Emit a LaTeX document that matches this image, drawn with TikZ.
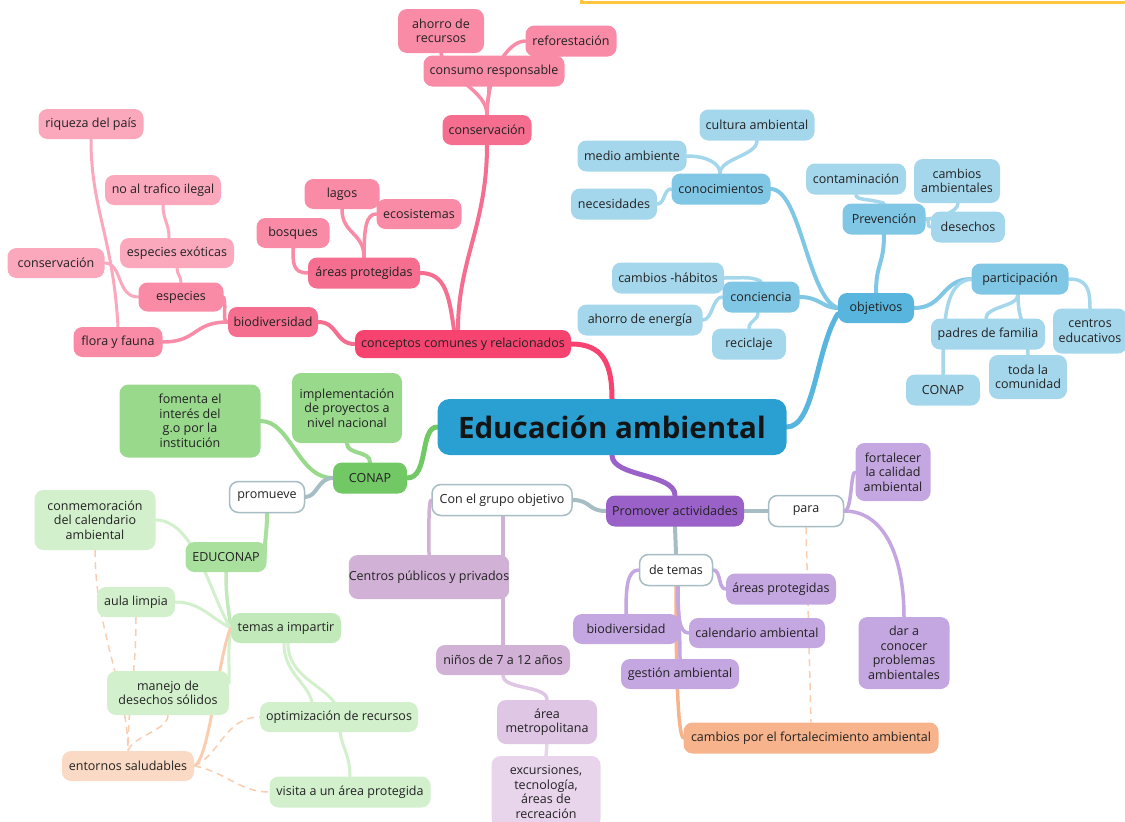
\documentclass[tikz,border=0pt]{standalone}
\usepackage{fontspec}
\setmainfont{Open Sans}
\usetikzlibrary{calc}
\pgfdeclarelayer{bg}
\pgfsetlayers{bg,main}
\definecolor{pkA}{HTML}{F6436F}
\definecolor{pkB}{HTML}{F56E8F}
\definecolor{pkC}{HTML}{F98BA6}
\definecolor{pkD}{HTML}{FBA8BD}
\definecolor{blT}{HTML}{2A9FD1}
\definecolor{blA}{HTML}{58B5DD}
\definecolor{blB}{HTML}{80C7E5}
\definecolor{blC}{HTML}{A5D7EC}
\definecolor{grA}{HTML}{72C865}
\definecolor{grB}{HTML}{98D98C}
\definecolor{grC}{HTML}{A9E09E}
\definecolor{grD}{HTML}{C2E9B9}
\definecolor{grE}{HTML}{D3F0CD}
\definecolor{puA}{HTML}{9A62C9}
\definecolor{puB}{HTML}{C4A6E1}
\definecolor{puC}{HTML}{D1B1D6}
\definecolor{puD}{HTML}{DFC6E4}
\definecolor{puE}{HTML}{E8D5EC}
\definecolor{orA}{HTML}{F7B38B}
\definecolor{orB}{HTML}{FADAC4}
\definecolor{dshc}{HTML}{F9CDB0}
\definecolor{gry}{HTML}{A7BDC4}
\definecolor{txt}{HTML}{222222}
\definecolor{yel}{HTML}{FFC53D}
\begin{document}
\begin{tikzpicture}[x=1pt,y=-1pt,
  base/.style={rounded corners=9pt, inner xsep=5pt, inner ysep=2pt, align=center,
    text=txt, font=\fontsize{12.5}{14.5}\selectfont},
  wh/.style 2 args={minimum width=#1, minimum height=#2},
  pkA/.style={base, fill=pkA}, pkB/.style={base, fill=pkB},
  pkC/.style={base, fill=pkC}, pkD/.style={base, fill=pkD},
  blA/.style={base, fill=blA}, blB/.style={base, fill=blB}, blC/.style={base, fill=blC},
  grA/.style={base, fill=grA}, grB/.style={base, fill=grB}, grC/.style={base, fill=grC},
  grD/.style={base, fill=grD}, grE/.style={base, fill=grE},
  puA/.style={base, fill=puA}, puB/.style={base, fill=puB}, puC/.style={base, fill=puC},
  puD/.style={base, fill=puD}, puE/.style={base, fill=puE},
  orA/.style={base, fill=orA}, orB/.style={base, fill=orB},
  wnode/.style={base, fill=white, draw=gry, line width=1.5pt},
  titlebox/.style={rounded corners=12pt, fill=blT, text=black!92,
    font=\fontsize{29.5}{34}\selectfont\bfseries},
  l0/.style={line width=5pt, line cap=round},
  l1/.style={line width=4pt, line cap=round},
  l2/.style={line width=3.5pt, line cap=round},
  l3/.style={line width=3pt, line cap=round},
  dsh/.style={line width=1.5pt, dash pattern=on 7pt off 5pt, draw=dshc}
]
\useasboundingbox (0,0) rectangle (1125,822);
\draw[line width=3pt, draw=yel] (581,-3) -- (581,2) -- (1130,2);

% ---- title
\node[titlebox, wh={349}{56}] (educ) at (612,427) {Educación ambiental};

% ---- pink branch
\node[pkA,wh={216}{28}] (concep) at (463,344) {conceptos comunes y relacionados};
\node[pkB,wh={89}{30}] (conserv) at (487,130) {conservación};
\node[pkB,wh={112}{31}] (areas) at (364,273) {áreas protegidas};
\node[pkB,wh={90}{30}] (biod) at (273,322) {biodiversidad};
\node[pkC,wh={141}{31}] (consumo) at (494,71) {consumo responsable};
\node[pkC,wh={86}{44}] (ahorro) at (441,31) {ahorro de\\recursos};
\node[pkC,wh={91}{31}] (refor) at (571,41) {reforestación};
\node[pkC,wh={75}{30}] (lagos) at (342,194) {lagos};
\node[pkC,wh={85}{30}] (ecosis) at (419,214) {ecosistemas};
\node[pkC,wh={73}{30}] (bosques) at (293,233) {bosques};
\node[pkD,wh={105}{30}] (riqueza) at (91,124) {riqueza del país};
\node[pkD,wh={116}{30}] (notraf) at (163,190) {no al trafico ilegal};
\node[pkD,wh={114}{30}] (exot) at (177,253) {especies exóticas};
\node[pkD,wh={97}{30}] (conservL) at (56,263) {conservación};
\node[pkC,wh={85}{29}] (especies) at (181,297) {especies};
\node[pkC,wh={89}{30}] (flora) at (118,342) {flora y fauna};

% ---- blue branch
\node[blA,wh={76}{30}] (objetivos) at (876,308) {objetivos};
\node[blB,wh={99}{31}] (conoc) at (721,189) {conocimientos};
\node[blB,wh={83}{31}] (prev) at (884,219) {Prevención};
\node[blB,wh={97}{31}] (partic) at (1020,279) {participación};
\node[blB,wh={77}{31}] (concien) at (761,297) {conciencia};
\node[blC,wh={115}{31}] (cultura) at (757,125) {cultura ambiental};
\node[blC,wh={109}{31}] (medio) at (632,156) {medio ambiente};
\node[blC,wh={86}{31}] (necesid) at (614,204) {necesidades};
\node[blC,wh={100}{31}] (contam) at (856,179) {contaminación};
\node[blC,wh={86}{44}] (cambAmb) at (957,181) {cambios\\ambientales};
\node[blC,wh={74}{31}] (desech) at (968,227) {desechos};
\node[blC,wh={112}{31}] (camHab) at (668,278) {cambios -hábitos};
\node[blC,wh={125}{31}] (ahorroE) at (640,320) {ahorro de energía};
\node[blC,wh={74}{31}] (recic) at (749,344) {reciclaje};
\node[blC,wh={114}{31}] (padres) at (988,334) {padres de familia};
\node[blC,wh={74}{45}] (centros) at (1090,331) {centros\\educativos};
\node[blC,wh={78}{44}] (toda) at (1028,377) {toda la\\comunidad};
\node[blC,wh={74}{31}] (conapB) at (943,390) {CONAP};

% ---- green branch
\node[grA,wh={74}{31}] (conap) at (370,478) {CONAP};
\node[grB,wh={110}{70}] (impl) at (347,408) {implementación\\de proyectos a\\nivel nacional};
\node[grB,wh={141}{73}] (fomenta) at (190,421) {fomenta el\\interés del\\g.o por la\\institución};
\node[wnode,wh={75}{31}] (promueve) at (267,497) {promueve};
\node[grC,wh={81}{30}] (educonap) at (226,557) {EDUCONAP};
\node[grE,wh={121}{60}] (conmem) at (95,520) {conmemoración\\del calendario\\ambiental};
\node[grE,wh={78}{30}] (aula) at (136,602) {aula limpia};
\node[grD,wh={110}{30}] (temas) at (286,628) {temas a impartir};
\node[grE,wh={122}{44}] (manejo) at (168,693) {manejo de\\desechos sólidos};
\node[orB,wh={132}{30}] (entornos) at (128,766) {entornos saludables};
\node[grE,wh={158}{30}] (optim) at (339,717) {optimización de recursos};
\node[grE,wh={161}{31}] (visita) at (350,792) {visita a un área protegida};

% ---- purple branch
\node[puA,wh={138}{31}] (promover) at (675,511) {Promover actividades};
\node[wnode,wh={75}{31}] (para) at (806,511) {para};
\node[puB,wh={75}{58}] (fortal) at (893,472) {fortalecer\\la calidad\\ambiental};
\node[puB,wh={91}{72}] (darA) at (904,653) {dar a\\conocer\\problemas\\ambientales};
\node[wnode,wh={73}{31}] (detemas) at (676,570) {de temas};
\node[puB,wh={110}{31}] (areasP) at (781,589) {áreas protegidas};
\node[puB,wh={136}{30}] (calend) at (757,633) {calendario ambiental};
\node[puB,wh={106}{30}] (biodP) at (626,629) {biodiversidad};
\node[puB,wh={118}{30}] (gestion) at (680,674) {gestión ambiental};
\node[orA,wh={255}{31}] (cambiosF) at (811,738) {cambios por el fortalecimiento ambiental};
\node[wnode,wh={140}{31}] (congrupo) at (502,500) {Con el grupo objetivo};
\node[puC,wh={149}{44},inner xsep=0pt] (centrosP) at (429,577) {Centros públicos y privados};
\node[puC,wh={134}{30}] (ninos) at (503,660) {niños de 7 a 12 años};
\node[puD,wh={100}{44}] (areaM) at (547,722) {área\\metropolitana};
\node[puE,wh={109}{72}] (excur) at (546,792) {excursiones,\\tecnología,\\áreas de\\recreación};

\begin{pgfonlayer}{bg}
% title links
\draw[l0,draw=pkA] (concep.east) .. controls +(32,0) and +(0,-35) .. (educ.north);
\draw[l0,draw=blA] (educ.east) .. controls +(28,0) and +(-22,35) .. ($(objetivos.west)+(0,6)$);
\draw[l0,draw=grA] (educ.west) .. controls +(-18,0) and +(22,0) .. (conap.east);
\draw[l0,draw=puA] (educ.south) .. controls +(0,22) and +(0,-22) .. (promover.north);
% pink
\draw[l1,draw=pkB] ($(concep.north)+(-5,0)$) .. controls +(0,-70) and +(0,80) .. (conserv.south);
\draw[l1,draw=pkB] ($(concep.north)+(-9,0)$) .. controls +(-5,-35) and +(25,0) .. (areas.east);
\draw[l1,draw=pkB] (concep.west) .. controls +(-20,0) and +(20,0) .. (biod.east);
\draw[l2,draw=pkC] (biod.west) .. controls +(-6,0) and +(3,12) .. (especies.east);
\draw[l2,draw=pkC] (biod.west) .. controls +(-35,0) and +(35,0) .. (flora.east);
\draw[l3,draw=pkD] (especies.north) .. controls +(0,-6) and +(0,6) .. (exot.south);
\draw[l3,draw=pkD] ($(exot.north)+(-8,0)$) .. controls +(0,-15) and +(0,15) .. (notraf.south);
\draw[l3,draw=pkD] (especies.west) .. controls +(-22,0) and +(18,0) .. (conservL.east);
\draw[l3,draw=pkD] (flora.north) .. controls +(-5,-90) and +(0,70) .. (riqueza.south);
\draw[l2,draw=pkC] (areas.north) .. controls +(0,-25) and +(0,25) .. (lagos.south);
\draw[l2,draw=pkC] (areas.north) .. controls +(0,-30) and +(-10,0) .. (ecosis.west);
\draw[l2,draw=pkC] (areas.west) .. controls +(-15,0) and +(0,15) .. (bosques.south);
\draw[l2,draw=pkC] (conserv.north) .. controls +(0,-15) and +(0,15) .. ($(consumo.south)+(-5,0)$);
\draw[l2,draw=pkC] (conserv.north) .. controls +(0,-25) and +(5,25) .. (ahorro.south);
\draw[l2,draw=pkC] (conserv.north) .. controls +(0,-40) and +(-18,0) .. (refor.west);
% blue
\draw[l1,draw=blB] (objetivos.west) .. controls +(-30,-10) and +(30,0) .. (conoc.east);
\draw[l1,draw=blB] (objetivos.west) .. controls +(-15,0) and +(20,0) .. (concien.east);
\draw[l1,draw=blB] (objetivos.north) .. controls +(0,-30) and +(0,30) .. (prev.south);
\draw[l1,draw=blB] (objetivos.east) .. controls +(30,0) and +(-30,0) .. (partic.west);
\draw[l2,draw=blC] ($(partic.south)+(-2,0)$) .. controls +(0,12) and +(0,-12) .. ($(padres.north)+(-2,0)$);
\draw[l2,draw=blC] ($(partic.south)+(-2,0)$) .. controls +(0,30) and +(0,-30) .. (toda.north);
\draw[l2,draw=blC] (partic.east) .. controls +(18,0) and +(0,-20) .. (centros.north);
\draw[l2,draw=blC] (partic.west) .. controls +(-25,3) and +(0,-60) .. (conapB.north);
\draw[l2,draw=blC] ($(conoc.north)+(-1,0)$) .. controls +(0,-15) and +(0,15) .. (cultura.south);
\draw[l2,draw=blC] ($(conoc.north)+(-1,0)$) .. controls +(0,-10) and +(20,0) .. (medio.east);
\draw[l2,draw=blC] (conoc.west) .. controls +(-8,0) and +(8,0) .. (necesid.east);
\draw[l2,draw=blC] (prev.north) .. controls +(-15,-5) and +(0,6) .. (contam.south);
\draw[l2,draw=blC] (prev.east) .. controls +(8,0) and +(0,10) .. ($(cambAmb.south)+(1,0)$);
\draw[l2,draw=blC] (prev.east) .. controls +(5,0) and +(-5,0) .. (desech.west);
\draw[l2,draw=blC] (concien.north) .. controls +(-10,-5) and +(20,0) .. (camHab.east);
\draw[l2,draw=blC] (concien.west) .. controls +(-10,0) and +(10,0) .. (ahorroE.east);
\draw[l2,draw=blC] ($(concien.south)+(-3,0)$) .. controls +(0,8) and +(0,-8) .. (recic.north);
% green
\draw[l1,draw=grB] (conap.north) .. controls +(0,-12) and +(0,12) .. (impl.south);
\draw[l1,draw=grB] (conap.west) .. controls +(-35,0) and +(30,0) .. (fomenta.east);
\draw[l1,draw=gry] (conap.west) .. controls +(-15,0) and +(12,0) .. (promueve.east);
\draw[l1,draw=grC] (promueve.south) .. controls +(0,20) and +(0,-20) .. ($(educonap.east)+(-2,0)$);
\draw[l2,draw=grD] (educonap.south) .. controls +(0,25) and +(-3,-25) .. (temas.west);
\draw[l3,draw=grE] (conmem.east) .. controls +(40,0) and +(-20,-30) .. (temas.west);
\draw[l3,draw=grE] (aula.east) .. controls +(25,0) and +(-20,-10) .. (temas.west);
\draw[l3,draw=grE] (temas.west) .. controls +(-3,25) and +(0,-25) .. ($(manejo.east)+(0,-10)$);
\draw[l3,draw=grE] ($(temas.south)+(-2,0)$) .. controls +(0,30) and +(-5,-20) .. ($(optim.north)+(-27,0)$);
\draw[l3,draw=grE] ($(temas.south)+(2,0)$) .. controls +(0,40) and +(0,-30) .. (optim.center) .. controls +(0,30) and +(0,-25) .. (visita.north);
\draw[l3,draw=dshc] (entornos.east) .. controls +(15,-5) and +(-12,25) .. (temas.west);
\draw[dsh] (conmem.south) .. controls +(0,80) and +(0,-60) .. (entornos.north);
\draw[dsh] (aula.south) .. controls +(0,60) and +(0,-50) .. (entornos.north);
\draw[dsh] (manejo.south) .. controls +(0,15) and +(5,-15) .. (entornos.north);
\draw[dsh] (entornos.east) .. controls +(25,-10) and +(-35,0) .. (optim.west);
\draw[dsh] (entornos.east) .. controls +(30,5) and +(-30,0) .. (visita.west);
% purple
\draw[l1,draw=gry] (promover.west) .. controls +(-18,0) and +(18,0) .. (congrupo.east);
\draw[l1,draw=gry] (promover.east) -- (para.west);
\draw[l1,draw=gry] (promover.south) -- (detemas.north);
\draw[l2,draw=puB] (para.east) .. controls +(8,0) and +(-5,0) .. (fortal.west);
\draw[l2,draw=puB] (para.east) .. controls +(40,0) and +(0,-60) .. (darA.north);
\draw[dsh] (para.south) -- (cambiosF.north);
\draw[l2,draw=puB] (detemas.east) .. controls +(8,0) and +(-8,0) .. (areasP.west);
\draw[l2,draw=orA] (detemas.south) .. controls +(0,115) and +(-4,-3) .. (cambiosF.west);
\draw[l2,draw=puB] ($(detemas.south)+(2,0)$) .. controls +(0,30) and +(-10,0) .. (calend.west);
\draw[l2,draw=puB] (detemas.west) .. controls +(-12,0) and +(0,-25) .. (biodP.north);
\draw[l2,draw=puB] ($(detemas.south)+(2,0)$) .. controls +(0,30) and +(0,-30) .. (gestion.north);
\draw[l2,draw=puC] (congrupo.west) .. controls +(-3,0) and +(0,-25) .. (centrosP.north);
\draw[l2,draw=puC] ($(congrupo.south)+(1,0)$) -- (ninos.north);
\draw[l2,draw=puD] (ninos.south) .. controls +(0,15) and +(0,-15) .. (areaM.north);
\draw[l2,draw=puE] (areaM.south) -- (excur.north);
\end{pgfonlayer}
\end{tikzpicture}
\end{document}
